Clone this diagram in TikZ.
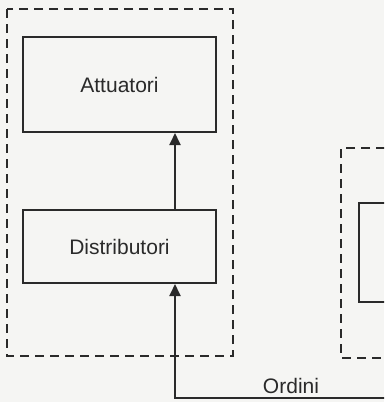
\documentclass[tikz,border=0pt]{standalone}
\usepackage{fontspec}
\setmainfont{Liberation Sans}
\usetikzlibrary{arrows.meta}
\definecolor{ink}{HTML}{2A2A2A}
\definecolor{paper}{HTML}{F5F5F3}
\tikzset{
  blockbox/.style={draw=ink, line width=2pt, rectangle, inner sep=0pt,
    minimum width=193pt, text=ink, font=\fontsize{21}{24}\selectfont},
  groupbox/.style={draw=ink, line width=1.3pt, dash pattern=on 9pt off 6pt},
  arr/.style={draw=ink, line width=1.8pt, -{Triangle[width=11pt,length=12pt]}},
  lbl/.style={text=ink, font=\fontsize{21}{24}\selectfont, inner sep=0pt}
}
\begin{document}
\begin{tikzpicture}[x=1pt,y=-1pt]
\useasboundingbox (0,0) rectangle (384,402);
\fill[paper] (0,0) rectangle (384,402);
\clip (0,0) rectangle (384,402);
% dashed groups
\draw[groupbox] (7,9) rectangle (233,356);
\draw[groupbox] (400,148) -- (341,148) -- (341,358) -- (400,358);
% blocks
\node[blockbox, minimum height=95pt] (att) at (119.5,84.5) {Attuatori};
\node[blockbox, minimum height=73pt] (dist) at (119.5,246.5) {Distributori};
\node[blockbox, minimum width=60pt, minimum height=99pt, anchor=north west] (right) at (358,202) {};
% connectors
\coordinate (ordc) at (175,398);
\coordinate (ordend) at (390,398);
\draw[arr] (dist.north -| ordc) -- (att.south -| ordc);
\draw[arr] (ordend) -- (ordc) -- (ordc |- dist.south);
\node[lbl, anchor=base] (ord) at (291,393) {Ordini};
\end{tikzpicture}
\end{document}
